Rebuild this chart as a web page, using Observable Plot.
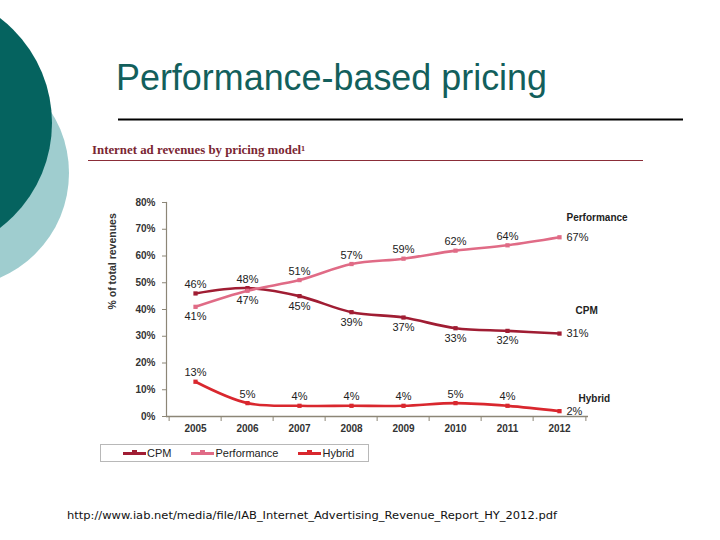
<!DOCTYPE html>
<html><head><meta charset="utf-8">
<script src="https://cdn.jsdelivr.net/npm/d3@7"></script>
<script src="https://cdn.jsdelivr.net/npm/@observablehq/plot@0.6"></script>
<style>
html,body{margin:0;padding:0;background:#fff;}
#slide{position:relative;width:720px;height:540px;overflow:hidden;font-family:"Liberation Sans",Arial,sans-serif;}
#deco,#chart{position:absolute;left:0;top:0;}
#legend{position:absolute;left:100px;top:444px;width:269px;height:18px;border:1px solid #b8b8b8;box-sizing:border-box;display:flex;align-items:center;padding-left:22px;gap:20px;font-size:11px;color:#222;background:#fff;}
.item{display:flex;align-items:center;gap:1px;}
.sample{position:relative;width:23px;height:3px;}
.sample i{position:absolute;left:9px;top:-1.5px;width:5px;height:5px;}
</style>
</head><body>
<div id="slide">
<svg id="deco" width="720" height="540">
  <circle cx="-45" cy="173" r="114" fill="#9fcdcf"/>
  <circle cx="-80" cy="123" r="132" fill="#05635f"/>
  <text x="116" y="90" font-family="Liberation Sans, Arial, sans-serif" font-size="36" fill="#135f5c" textLength="431" lengthAdjust="spacingAndGlyphs">Performance-based pricing</text>
  <line x1="118" x2="683" y1="119.5" y2="119.5" stroke="#000" stroke-width="2"/>
  <text x="92" y="154" font-family="Liberation Serif, serif" font-weight="bold" font-size="11.5" fill="#7a2632" textLength="213" lengthAdjust="spacingAndGlyphs">Internet ad revenues by pricing model¹</text>
  <line x1="88" x2="643" y1="160.5" y2="160.5" stroke="#8b2d38" stroke-width="1.2"/>
  <text x="67" y="519" font-family="DejaVu Sans, Verdana, sans-serif" font-size="10.5" fill="#111" textLength="490" lengthAdjust="spacingAndGlyphs">http://www.iab.net/media/file/IAB_Internet_Advertising_Revenue_Report_HY_2012.pdf</text>
</svg>
<div id="chart"></div>
<div id="legend"></div>
</div>
<script>
const years = ["2005","2006","2007","2008","2009","2010","2011","2012"];
const cpm = [46,48,45,39,37,33,32,31];
const performance = [41,47,51,57,59,62,64,67];
const hybrid = [13,5,4,4,4,5,4,2];
const seriesNames = ["CPM","Performance","Hybrid"];
const seriesColors = ["#a01d33","#e06b86","#d9272e"];
const yTicks = [0,10,20,30,40,50,60,70,80];

const seriesValues = {CPM: cpm, Performance: performance, Hybrid: hybrid};
const rows = seriesNames.flatMap(s => years.map((year, i) => ({series: s, year, value: seriesValues[s][i], i})));
const last = years.length - 1;
function placement(d) {
  if (d.i === last) return "right";
  if (d.series === "Hybrid") return "above";
  const other = d.series === "CPM" ? performance[d.i] : cpm[d.i];
  return d.value >= other ? "above" : "below";
}
const axisColor = "#8c8677";
const W = 720, H = 540, mL = 166, mR = 132, mT = 202, mB = 124;
const step = (W - mL - mR) / years.length;
const nameOffset = {Performance: [7, -19], CPM: [16, -23], Hybrid: [19, -12]};
const fmt = d => d.value + "%";

const chart = Plot.plot({
  width: W, height: H,
  marginLeft: mL, marginRight: mR, marginTop: mT, marginBottom: mB,
  style: {background: "transparent", fontFamily: "Liberation Sans, Arial, sans-serif", color: "#333"},
  x: {type: "point", domain: years, padding: 0.5},
  y: {domain: [0, 80]},
  color: {domain: seriesNames, range: seriesColors},
  marks: [
    Plot.frame({anchor: "left", stroke: axisColor, strokeWidth: 1.2}),
    Plot.ruleY([0], {stroke: axisColor, strokeWidth: 1.5}),
    Plot.axisY(yTicks, {tickSize: 4, tickPadding: 7, stroke: axisColor, fill: "#333", tickFormat: d => d + "%", fontWeight: "bold", fontSize: 10, label: null}),
    Plot.axisX({tickSize: 0, tickPadding: 8, fill: "#333", fontWeight: "bold", fontSize: 10, label: null}),
    Plot.axisX(years, {tickSize: 5, dx: -step / 2, stroke: axisColor, tickFormat: () => "", label: null}),
    Plot.axisX([years[last]], {tickSize: 5, dx: step / 2, stroke: axisColor, tickFormat: () => "", label: null}),
    Plot.text(["% of total revenues"], {frameAnchor: "left", dx: -54, rotate: -90, fontWeight: "bold", fontSize: 10.5, fill: "#333"}),
    Plot.line(rows, {x: "year", y: "value", z: "series", stroke: "series", curve: "catmull-rom", strokeWidth: 2.6}),
    Plot.dot(rows, {x: "year", y: "value", fill: "series", symbol: "square", r: 2.4}),
    Plot.text(rows.filter(d => placement(d) === "above"), {x: "year", y: "value", text: fmt, dy: -9, fontSize: 11, fill: "#222"}),
    Plot.text(rows.filter(d => placement(d) === "below"), {x: "year", y: "value", text: fmt, dy: 10, fontSize: 11, fill: "#222"}),
    Plot.text(rows.filter(d => placement(d) === "right"), {x: "year", y: "value", text: fmt, dx: 7, textAnchor: "start", fontSize: 11, fill: "#222"}),
    ...seriesNames.map(s => Plot.text(rows.filter(d => d.series === s && d.i === last), {x: "year", y: "value", text: "series", dx: nameOffset[s][0], dy: nameOffset[s][1], textAnchor: "start", fontWeight: "bold", fontSize: 10, fill: "#222"}))
  ]
});
document.getElementById("chart").appendChild(chart);

const legend = document.getElementById("legend");
seriesNames.forEach((s, k) => {
  const item = document.createElement("div");
  item.className = "item";
  item.innerHTML = `<span class="sample" style="background:${seriesColors[k]}"><i style="background:${seriesColors[k]}"></i></span><span>${s}</span>`;
  legend.appendChild(item);
});
</script>
</body></html>
